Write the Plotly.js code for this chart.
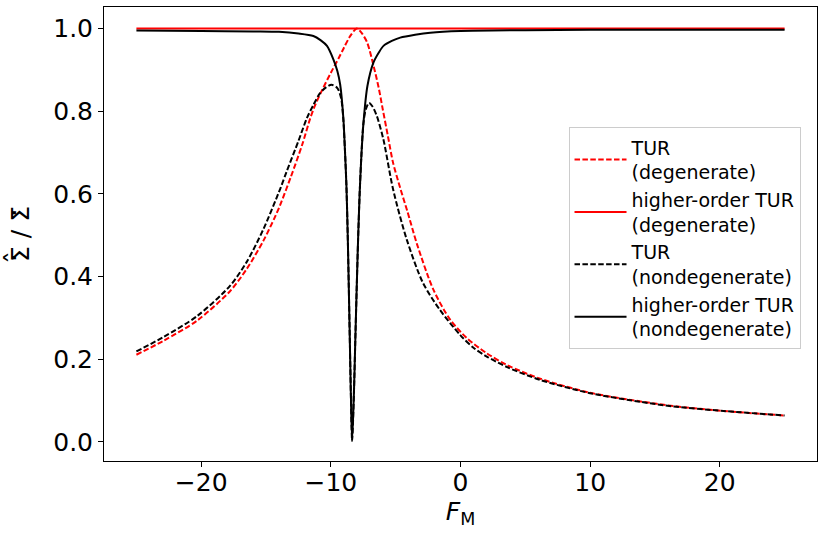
<!DOCTYPE html>
<html>
<head>
<meta charset="utf-8">
<script src="https://cdn.plot.ly/plotly-3.0.1.min.js"></script>
<style>
  html, body { margin: 0; padding: 0; background: #fff; }
  #chart { width: 830px; height: 533px; }
</style>
</head>
<body>
<div id="chart"></div>
<script>
// values

// TUR, degenerate (red dashed)
const xTurDeg = [-25, -22.9, -20.3, -17.8, -16.5, -15.2, -14.3, -13.9, -13.1, -12.2, -11.6, -11.3, -10.8, -10.0,
  -9.4, -9.0, -8.5, -8.0, -7.6, -7.2, -6.7, -6.3, -6.0, -5.6, -5.2, -4.65, -4.1, -3.35, -2.1, -0.8,
  0.5, 2.0, 3.6, 6.15, 10, 13.9, 16.4, 20.3, 25];
const yTurDeg = [0.211, 0.245, 0.294, 0.364, 0.418, 0.487, 0.545, 0.574, 0.640, 0.720, 0.782, 0.808, 0.843, 0.893,
  0.928, 0.953, 0.982, 1.0, 0.988, 0.966, 0.909, 0.855, 0.805, 0.740, 0.675, 0.614, 0.558, 0.478, 0.369, 0.296,
  0.251, 0.215, 0.186, 0.153, 0.119, 0.098, 0.087, 0.075, 0.064];

// higher-order TUR, degenerate (red solid)
const xHoDeg = [-25, -15, -8, 0, 10, 25];
const yHoDeg = [1.0, 1.0, 1.0, 1.0, 1.0, 1.0];

// TUR, nondegenerate (black dashed)
const xTurNon = [-25, -22.9, -20.3, -17.8, -16.5, -15.2, -13.9, -13.4, -12.5, -11.85, -11.35, -10.85,
  -10.4, -9.95, -9.5, -9.2, -9.05, -8.92, -8.80, -8.70, -8.62, -8.54, -8.46, -8.36, -8.22, -8.12, -8.0, -7.9,
  -7.78, -7.65, -7.49, -7.3, -7.05, -6.8, -6.45, -5.95, -5.2, -4.15, -2.9, -1.6, 0, 1.0, 2.0, 3.6, 6.15, 10,
  13.9, 16.4, 20.3, 25];
const yTurNon = [0.219, 0.254, 0.305, 0.377, 0.435, 0.515, 0.613, 0.655, 0.728, 0.783, 0.815, 0.843,
  0.857, 0.864, 0.856, 0.830, 0.785, 0.71, 0.62, 0.50, 0.38, 0.25, 0.12, 0.003, 0.12, 0.24, 0.38, 0.49,
  0.60, 0.69, 0.77, 0.805, 0.820, 0.812, 0.788, 0.732, 0.611, 0.49, 0.385, 0.32, 0.258, 0.228, 0.207, 0.181, 0.150, 0.118,
  0.097, 0.086, 0.075, 0.064];

// higher-order TUR, nondegenerate (black solid)
const xHoNon = [-25, -20, -16, -14, -12.5, -11.35, -10.8, -10.3, -9.8, -9.5, -9.28, -9.03, -8.92, -8.80,
  -8.70, -8.62, -8.54, -8.46, -8.36, -8.22, -8.12, -8.0, -7.9, -7.78, -7.65, -7.49, -7.18, -6.71, -6.3,
  -5.94, -5.3, -4.65, -3.5, -2.33, 0, 5, 10, 15, 20, 25];
const yHoNon = [0.995, 0.994, 0.993, 0.992, 0.988, 0.982, 0.972, 0.958, 0.925, 0.897, 0.864, 0.78, 0.71, 0.62,
  0.50, 0.38, 0.25, 0.12, 0.003, 0.12, 0.24, 0.38, 0.49, 0.60, 0.69, 0.77, 0.861, 0.918, 0.942,
  0.958, 0.970, 0.978, 0.985, 0.990, 0.994, 0.996, 0.997, 0.997, 0.997, 0.997];

const xTicks = [-20, -10, 0, 10, 20];
const yTicks = [0.0, 0.2, 0.4, 0.6, 0.8, 1.0];

const FONT = 'DejaVu Sans, sans-serif';
const DASH = '5.5px,2.4px';

function line(x, y, name, color, dash) {
  return {
    x, y, name, type: 'scatter', mode: 'lines', hoverinfo: 'skip',
    line: { color, width: 2, dash, shape: 'spline', smoothing: 0.8 }
  };
}

const data = [
  line(xTurDeg, yTurDeg, 'TUR<br>(degenerate)', '#ff0000', DASH),
  line(xHoDeg, yHoDeg, 'higher-order TUR<br>(degenerate)', '#ff0000', 'solid'),
  line(xTurNon, yTurNon, 'TUR<br>(nondegenerate)', '#000000', DASH),
  line(xHoNon, yHoNon, 'higher-order TUR<br>(nondegenerate)', '#000000', 'solid')
];

const axisCommon = {
  showline: true, mirror: true, linecolor: '#000', linewidth: 1,
  ticks: 'outside', ticklen: 5, tickwidth: 1, tickcolor: '#000',
  showgrid: false, zeroline: false,
  tickfont: { family: FONT, size: 25, color: '#000' }
};

// accents of the y label (dot and hat over Sigma), placed as rotated text
function accent(text, x, y, size) {
  return {
    text, x, y, xref: 'paper', yref: 'paper', showarrow: false, textangle: -90,
    xanchor: 'center', yanchor: 'middle', font: { family: FONT, size, color: '#000' }
  };
}

const layout = {
  width: 830, height: 533,
  paper_bgcolor: '#fff', plot_bgcolor: '#fff',
  font: { family: FONT, color: '#000' },
  margin: { l: 104, r: 13, t: 7, b: 72 },
  showlegend: true,
  xaxis: {
    ...axisCommon,
    range: [-27.5, 27.5],
    tickvals: xTicks,
    ticklabelstandoff: -6,
    title: { text: '<i>F</i><sub>M</sub>', font: { family: FONT, size: 25 }, standoff: 0 }
  },
  yaxis: {
    ...axisCommon,
    range: [-0.046, 1.052],
    tickvals: yTicks,
    tickformat: '.1f',
    title: { text: '\u03A3 / \u03A3', font: { family: FONT, size: 25 }, standoff: 16 }
  },
  annotations: [
    accent('\u00B7', -0.1262, 0.5474, 30),
    accent('\u00B7', -0.1262, 0.4482, 30),
    accent('\u02C6', -0.124, 0.4482, 26)
  ],
  legend: {
    x: 0.6515, y: 0.735, xanchor: 'left', yanchor: 'top',
    bgcolor: 'rgba(255,255,255,0.8)', bordercolor: '#cccccc', borderwidth: 1,
    font: { family: FONT, size: 19, color: '#000' },
    tracegroupgap: 0, itemwidth: 52
  }
};

Plotly.newPlot('chart', data, layout, { displayModeBar: false, staticPlot: true });
</script>
</body>
</html>
